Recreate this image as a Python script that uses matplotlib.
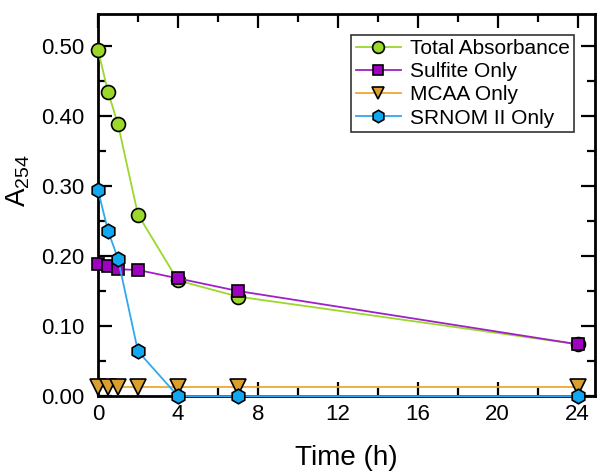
import matplotlib
matplotlib.use('Agg')
import matplotlib.pyplot as plt
from matplotlib.ticker import MultipleLocator, FormatStrFormatter

plt.rcParams['font.family'] = ['Liberation Sans', 'DejaVu Sans']
plt.rcParams['mathtext.default'] = 'regular'

time_h = [0, 0.5, 1, 2, 4, 7, 24]
total_abs = [0.494, 0.434, 0.388, 0.259, 0.165, 0.142, 0.074]
sulfite = [0.189, 0.186, 0.181, 0.180, 0.168, 0.150, 0.074]
mcaa = [0.013, 0.013, 0.013, 0.013, 0.013, 0.013, 0.013]
srnom = [0.294, 0.236, 0.196, 0.064, 0.0, 0.0, 0.0]

fig = plt.figure(figsize=(5.99, 4.71), dpi=100)
ax = fig.add_axes([0.1636, 0.159, 0.829, 0.811])

common = dict(markeredgecolor='black', markeredgewidth=1.2,
              linewidth=1.3, clip_on=False)
ax.plot(time_h, total_abs, '-o', color='#9ad82a', markerfacecolor='#9ad82a',
        markersize=10, label='Total Absorbance', zorder=3, **common)
ax.plot(time_h, sulfite, '-s', color='#a020c8', markerfacecolor='#a000c0',
        markersize=8.5, label='Sulfite Only', zorder=4, **common)
ax.plot(time_h, mcaa, '-v', color='#f0a830', markerfacecolor='#d9a030',
        markersize=11, label='MCAA Only', zorder=5, **common)
ax.plot(time_h, srnom, '-h', color='#30a8f0', markerfacecolor='#10a8f0',
        markersize=10.5, label='SRNOM II Only', zorder=6, **common)

ax.set_xlim(0, 24.85)
ax.set_ylim(0, 0.545)
ax.xaxis.set_major_locator(MultipleLocator(4))
ax.xaxis.set_minor_locator(MultipleLocator(2))
ax.yaxis.set_major_locator(MultipleLocator(0.1))
ax.yaxis.set_minor_locator(MultipleLocator(0.05))
ax.yaxis.set_major_formatter(FormatStrFormatter('%.2f'))

ax.tick_params(which='both', direction='in', top=True, right=True, width=1.6,
               labelsize=16)
ax.tick_params(axis='y', pad=10)
ax.tick_params(axis='x', pad=6)
ax.tick_params(which='major', length=10)
ax.tick_params(which='minor', length=6)
for s in ax.spines.values():
    s.set_linewidth(2)

ax.set_xlabel('Time (h)', fontsize=20, labelpad=14)
ax.set_ylabel('A$_{254}$', fontsize=20)
ax.yaxis.set_label_coords(-0.132, 0.565)

leg = ax.legend(loc='upper right', fontsize=15, frameon=True, fancybox=False,
                edgecolor='black', handlelength=2.2, handletextpad=0.4,
                borderpad=0.2, labelspacing=0.2, borderaxespad=1.0,
                markerscale=0.85)
leg.get_frame().set_linewidth(1.2)

fig.savefig('out.png', dpi=100)
